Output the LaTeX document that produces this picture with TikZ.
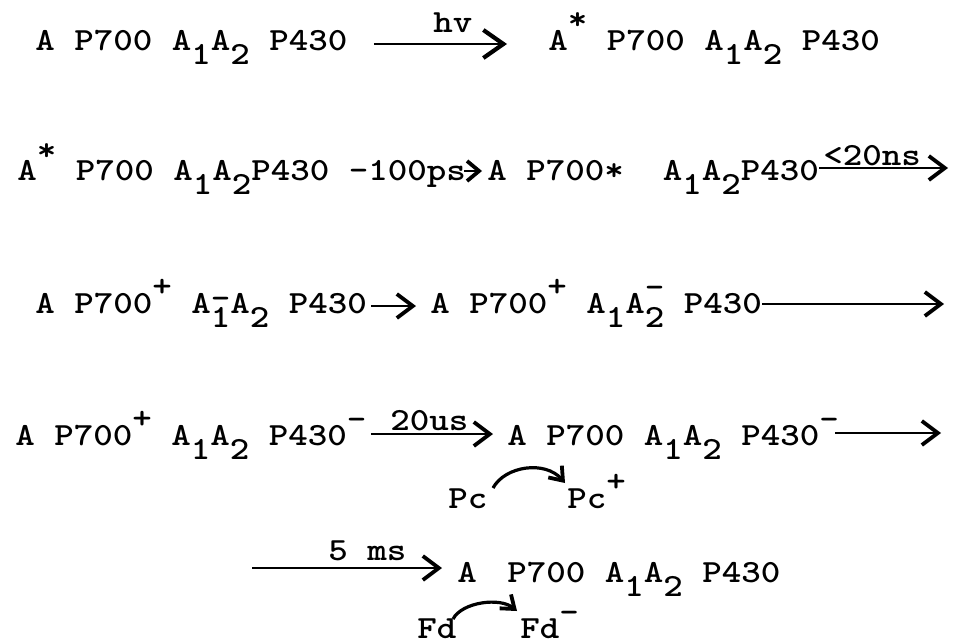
\documentclass[tikz,border=0pt]{standalone}
\usetikzlibrary{arrows.meta,calc}
\newcommand\tsb[1]{\makebox[0.525em][l]{\raisebox{-8.6pt}{#1}}}
\newcommand\tsp[2][9.4pt]{\makebox[0.525em][l]{\raisebox{#1}{#2}}}
\newcommand\tsbsp[3]{\makebox[0.525em][l]{\rlap{\raisebox{-8.6pt}{#1}}\raisebox{#3}{#2}}}
\newcommand\tw[1]{\scalebox{1}[0.87]{#1}}
\tikzset{
  species/.style={inner sep=0pt, anchor=base west, font=\ttfamily\bfseries\fontsize{18.57pt}{20pt}\selectfont},
  rx/.style={line width=1.3pt, -{Straight Barb[length=8pt,width=12pt,line width=1.9pt]}},
  bigrx/.style={line width=1.3pt, -{Straight Barb[length=10pt,width=14pt,line width=2.1pt]}},
  smallrx/.style={line width=1.3pt, -{Straight Barb[length=6pt,width=10pt,line width=1.9pt]}},
  cx/.style={line width=1.6pt, -{Straight Barb[length=6pt,width=9pt,line width=1.9pt]}},
}
\begin{document}
\begin{tikzpicture}[x=0.5pt,y=-0.5pt]
\useasboundingbox (0,0) rectangle (957,643);
\fill[white] (0,0) rectangle (957,643);
% row 1
\node[species] (r1a) at (35,50) {\tw{A P700 A\tsb{1}A\tsb{2} P430}};
\node[species] (r1b) at (548,50) {\tw{A\tsp[11.5pt]{*} P700 A\tsb{1}A\tsb{2} P430}};
\node[species] (l1) at (433,32) {\tw{hv}};
\draw[bigrx] ($(r1a.base east)+(26,-6)$) -- ($(r1b.base west)+(-41,-6)$);
% row 2
\node[species] (r2a) at (17,180) {\tw{A\tsp[11pt]{*} P700 A\tsb{1}A\tsb{2}P430}};
\node[species] (l2a) at (348.5,180) {\tw{-100ps}};
\node[species] (r2b) at (487,180) {\tw{A P700*~ A\tsb{1}A\tsb{2}P430}};
\node[species] (l2b) at (823,165) {\tw{<20ns}};
\coordinate (c2) at (948,168);
\draw[smallrx] ($(l2a.base east)+(-2,-9)$) -- ($(r2b.base west)+(-5,-9)$);
\draw[rx] ($(r2b.base east)+(0,-12)$) -- (c2);
% row 3
\node[species] (r3a) at (35,313) {\tw{A P700\tsp{+} A\tsbsp{1}{-}{2.5pt}A\tsb{2} P430}};
\node[species] (r3b) at (430,313) {\tw{A P700\tsp{+} A\tsb{1}A\tsbsp{2}{-}{9pt} P430}};
\coordinate (c3) at (944,304);
\draw[rx] ($(r3a.base east)+(4,-7)$) -- ($(r3b.base west)+(-14,-7)$);
\draw[rx] ($(r3b.base east)+(0,-9)$) -- (c3);
% row 4
\node[species] (r4a) at (15,445) {\tw{A P700\tsp{+} A\tsb{1}A\tsb{2} P430\tsp[9.2pt]{-}}};
\node[species] (r4b) at (507,445) {\tw{A P700 A\tsb{1}A\tsb{2} P430\tsp[9.2pt]{-}}};
\node[species] (l4) at (390,430) {\tw{20us}};
\coordinate (c4) at (941,433);
\draw[rx] ($(r4a.base east)+(4,-11)$) -- ($(r4b.base west)+(-14,-11)$);
\draw[rx] ($(r4b.base east)+(-4,-12)$) -- (c4);
\node[species] (pc1) at (448,508) {\tw{Pc}};
\node[species] (pc2) at (567,508) {\tw{Pc\tsp{+}}};
\draw[cx] ($(pc1.base west)+(45,-20)$) .. controls ($(pc1.base west)+(57,-42)$) and ($(pc2.base west)+(-22,-48)$) .. ($(pc2.base west)+(-2,-25)$);
% row 5
\coordinate (c5) at (252,568);
\node[species] (r5a) at (457,582) {\tw{A}};
\node[species] (r5b) at (507,582) {\tw{P700 A\tsb{1}A\tsb{2} P430}};
\node[species] (l5) at (328,560) {\tw{5 ms}};
\draw[rx] (c5) -- ($(r5a.base west)+(-15,-14)$);
\node[species] (fd1) at (417,638) {\tw{Fd}};
\node[species] (fd2) at (520,638) {\tw{Fd\tsp[9.2pt]{-}}};
\draw[cx] ($(fd1.base west)+(36,-19)$) .. controls ($(fd1.base west)+(45,-36)$) and ($(fd2.base west)+(-20,-41)$) .. ($(fd2.base west)+(-3,-27)$);
\end{tikzpicture}
\end{document}
